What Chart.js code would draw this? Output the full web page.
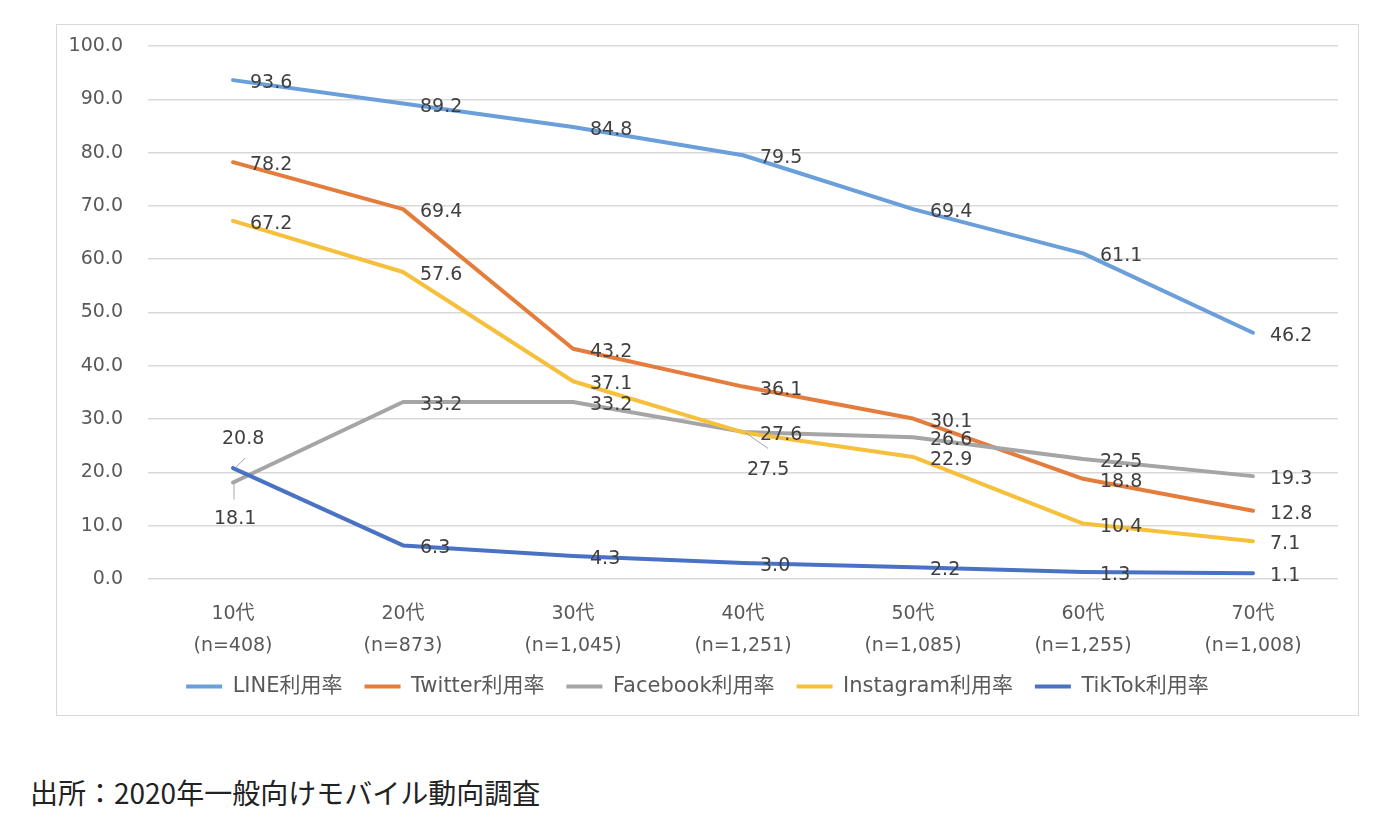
<!DOCTYPE html>
<html lang="ja">
<head>
<meta charset="UTF-8">
<title>年代別 SNS利用率</title>
<script src="https://cdn.jsdelivr.net/npm/chart.js"></script>
<style>
  body { margin: 0; background: #fff; width: 1398px; height: 824px; position: relative; overflow: hidden; }
  #marco { position: absolute; left: 56px; top: 24px; width: 1301px; height: 690px; border: 1px solid #d9d9d9; }
  #fuente { position: absolute; left: 30px; top: 772px; font-size: 28px; font-family: "Noto Sans CJK JP", sans-serif; color: #222; }
</style>
</head>
<body>

<div id="marco">
  <canvas id="grafico" width="1301" height="690"></canvas>
</div>
<div id="fuente">出所：2020年一般向けモバイル動向調査</div>

<script>
// Datos
const edades = ['10代', '20代', '30代', '40代', '50代', '60代', '70代'];
const muestras = ['(n=408)', '(n=873)', '(n=1,045)', '(n=1,251)', '(n=1,085)', '(n=1,255)', '(n=1,008)'];
const nombres = ['LINE利用率', 'Twitter利用率', 'Facebook利用率', 'Instagram利用率', 'TikTok利用率'];
const lineData = [93.6, 89.2, 84.8, 79.5, 69.4, 61.1, 46.2];
const twitterData = [78.2, 69.4, 43.2, 36.1, 30.1, 18.8, 12.8];
const facebookData = [18.1, 33.2, 33.2, 27.6, 26.6, 22.5, 19.3];
const instagramData = [67.2, 57.6, 37.1, 27.5, 22.9, 10.4, 7.1];
const tiktokData = [20.8, 6.3, 4.3, 3.0, 2.2, 1.3, 1.1];

const colores = ['#6a9fd9', '#e47c3c', '#a5a5a5', '#f7c03c', '#4a72c4'];

// etiquetas que se apartan de la posición normal (serie-índice)
const desplazados = {
  '4-0': { dx: -11, dy: -29, guia: [[3, -1], [12, -10]] },
  '2-0': { dx: -19, dy: 37, guia: [[3, 0], [1, 2], [1, 17]] },
  '3-3': { dx: 4, dy: 38, guia: [[2, 0], [25, 16]] }
};

const etiquetas = {
  id: 'etiquetas',
  afterDatasetsDraw(chart) {
    const ctx = chart.ctx;
    ctx.save();
    ctx.font = '19px "DejaVu Sans", sans-serif';
    ctx.fillStyle = '#404040';
    ctx.textBaseline = 'middle';
    ctx.textAlign = 'left';
    chart.data.datasets.forEach((ds, i) => {
      const meta = chart.getDatasetMeta(i);
      meta.data.forEach((p, j) => {
        const esp = desplazados[i + '-' + j];
        const dx = esp ? esp.dx : 17;
        const dy = esp ? esp.dy : 3;
        if (esp && esp.guia) {
          ctx.beginPath();
          ctx.strokeStyle = '#a6a6a6';
          ctx.lineWidth = 1;
          esp.guia.forEach((g, k) => {
            if (k === 0) ctx.moveTo(p.x + g[0], p.y + g[1]);
            else ctx.lineTo(p.x + g[0], p.y + g[1]);
          });
          ctx.stroke();
        }
        ctx.fillText(ds.data[j].toFixed(1), p.x + dx, p.y + dy);
      });
    });
    ctx.restore();
  }
};

Chart.defaults.font.family = '"DejaVu Sans", "Noto Sans CJK JP", sans-serif';
Chart.defaults.font.size = 19;
Chart.defaults.color = '#595959';

const series = [lineData, twitterData, facebookData, instagramData, tiktokData];

const grafico = new Chart(document.getElementById('grafico'), {
  type: 'line',
  data: {
    labels: edades,
    datasets: series.map((s, i) => ({
      label: nombres[i],
      data: s,
      borderColor: colores[i],
      backgroundColor: colores[i],
      borderWidth: 4,
      pointRadius: 0,
      tension: 0,
      borderJoinStyle: 'round',
      borderCapStyle: 'round',
      fill: false,
      order: series.length - i
    }))
  },
  options: {
    responsive: false,
    animation: false,
    layout: { padding: { top: 21, right: 20, left: 0, bottom: 8 } },
    scales: {
      x: {
        offset: true,
        grid: { display: false },
        border: { display: false },
        ticks: {
          padding: 11,
          font: { size: 19, lineHeight: 32 / 19 },
          maxRotation: 0,
          autoSkip: false,
          callback: (v, i) => [edades[i], muestras[i]]
        },
        afterFit(scale) { scale.height = 75; }
      },
      y: {
        min: 0,
        max: 100,
        border: { display: false },
        grid: { color: '#d9d9d9', lineWidth: 1.5, drawTicks: true, tickLength: 25, tickColor: 'rgba(0,0,0,0)' },
        ticks: { stepSize: 10, padding: 0, callback: v => v.toFixed(1) },
        afterFit(scale) { scale.width = 91; }
      }
    },
    plugins: {
      legend: {
        position: 'bottom',
        labels: {
          boxWidth: 36,
          boxHeight: 4,
          padding: 22,
          font: { size: 21 },
          color: '#595959',
          sort: (a, b) => a.datasetIndex - b.datasetIndex,
          generateLabels(chart) {
            const items = Chart.defaults.plugins.legend.labels.generateLabels(chart);
            items.forEach(it => { it.fillStyle = it.strokeStyle; it.lineWidth = 0; });
            return items;
          }
        }
      },
      tooltip: { enabled: false }
    }
  },
  plugins: [etiquetas]
});
</script>

</body>
</html>
